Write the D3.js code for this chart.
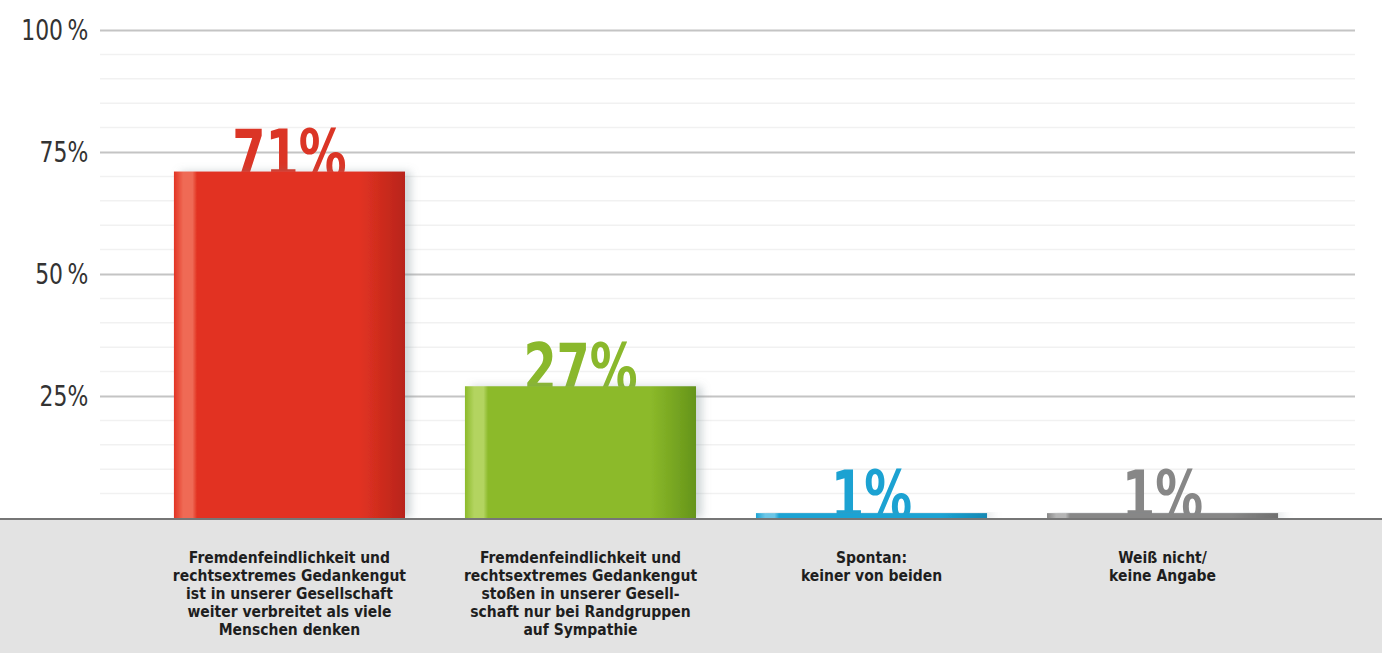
<!DOCTYPE html>
<html>
<head>
<meta charset="utf-8">
<script src="https://cdn.jsdelivr.net/npm/d3@7"></script>
<style>
  body { margin: 0; background: #fff; }
  svg { display: block; }
</style>
</head>
<body>
<div id="chart"></div>
<script>
// chart data
var categories = [
	["Fremdenfeindlichkeit und", "rechtsextremes Gedankengut", "ist in unserer Gesellschaft", "weiter verbreitet als viele", "Menschen denken"],
	["Fremdenfeindlichkeit und", "rechtsextremes Gedankengut", "stoßen in unserer Gesell-", "schaft nur bei Randgruppen", "auf Sympathie"],
	["Spontan:", "keiner von beiden"],
	["Weiß nicht/", "keine Angabe"]
];
var values = [71, 27, 1, 1];
var yTicks = [25, 50, 75, 100];
var tickLabels = ["25%", "50\u2009%", "75%", "100\u2009%"];

var barColours = [
	{light: "#ef6a55", mid: "#e23322", dark: "#b8241a", text: "#db3526"},
	{light: "#b3d461", mid: "#8cba2a", dark: "#65941a", text: "#8ab82c"},
	{light: "#6cc6e6", mid: "#1ba3d3", dark: "#1488b3", text: "#1ca2d2"},
	{light: "#b5b5b5", mid: "#878787", dark: "#6f6f6f", text: "#878787"}
];

var width = 1382, height = 653;
var margin = {top: 30, left: 100, right: 30, bottom: 135};
var fontCond = "'Liberation Sans Narrow', 'DejaVu Sans Condensed', sans-serif";

var svg = d3.select("#chart")
			.append("svg")
			.attr("width", width)
			.attr("height", height);

var x = d3.scaleBand()
		  .domain(d3.range(values.length))
		  .range([margin.left, width - margin.right])
		  .paddingInner(0.206)
		  .paddingOuter(0.254);

var y = d3.scaleLinear()
		  .domain([0, 100])
		  .range([height - margin.bottom, margin.top]);

// gradients for the bars
var defs = svg.append("defs");
barColours.forEach(function (c, i) {
	var g = defs.append("linearGradient")
				.attr("id", "bar" + i)
				.attr("x1", "0%").attr("x2", "100%")
				.attr("y1", "0%").attr("y2", "0%");
	g.append("stop").attr("offset", "0%").attr("stop-color", c.mid);
	g.append("stop").attr("offset", "4%").attr("stop-color", c.light);
	g.append("stop").attr("offset", "8%").attr("stop-color", c.light);
	g.append("stop").attr("offset", "10%").attr("stop-color", c.mid);
	g.append("stop").attr("offset", "80%").attr("stop-color", c.mid);
	g.append("stop").attr("offset", "100%").attr("stop-color", c.dark);
});
var shadow = defs.append("filter")
				 .attr("id", "shadow")
				 .attr("x", "-10%").attr("width", "130%");
shadow.append("feDropShadow")
	  .attr("dx", 6).attr("dy", 0)
	  .attr("stdDeviation", 4)
	  .attr("flood-color", "#7a8a90")
	  .attr("flood-opacity", 0.35);

// faint minor lines every 5%
svg.append("g")
   .selectAll("line")
   .data(d3.range(5, 100, 5).filter(function (d) { return d % 25 !== 0; }))
   .enter()
   .append("line")
   .attr("x1", margin.left)
   .attr("x2", width - 27)
   .attr("y1", function (d) { return y(d); })
   .attr("y2", function (d) { return y(d); })
   .attr("stroke", "#f1f1f1")
   .attr("stroke-width", 1.5);

// major gridlines + labels
var yAxis = d3.axisLeft(y)
			  .tickValues(yTicks)
			  .tickSize(-(width - 27 - margin.left))
			  .tickPadding(14)
			  .tickFormat(function (d, i) { return tickLabels[i]; });

var yg = svg.append("g")
			.attr("transform", "translate(" + margin.left + ",0)")
			.call(yAxis);
yg.select(".domain").remove();
yg.selectAll(".tick line")
  .attr("stroke", "#c4c4c4")
  .attr("stroke-width", 2);
yg.selectAll(".tick text")
  .attr("fill", "#333")
  .attr("font-family", fontCond)
  .attr("font-size", 29)
  .attr("transform", "scale(0.84,1)")
  .attr("dy", "0.34em");

// value labels (drawn first so the bar covers their foot)
svg.append("g")
   .selectAll("g")
   .data(values)
   .enter()
   .append("g")
   .attr("transform", function (d, i) {
		return "translate(" + (x(i) + x.bandwidth() / 2) + "," + (y(d) + 6) + ") scale(0.78,1)";
   })
   .append("text")
   .attr("text-anchor", "middle")
   .attr("font-family", fontCond)
   .attr("font-weight", "bold")
   .attr("font-size", 68)
   .attr("fill", function (d, i) { return barColours[i].text; })
   .text(function (d) { return d + "%"; });

// bars
svg.append("g")
   .selectAll("rect")
   .data(values)
   .enter()
   .append("rect")
   .attr("x", function (d, i) { return x(i); })
   .attr("y", function (d) { return y(d); })
   .attr("width", x.bandwidth())
   .attr("height", function (d) { return y(0) - y(d); })
   .attr("fill", function (d, i) { return "url(#bar" + i + ")"; })
   .attr("filter", "url(#shadow)");

// grey label panel
svg.append("rect")
   .attr("x", 0)
   .attr("y", y(0))
   .attr("width", width)
   .attr("height", height - y(0))
   .attr("fill", "#e3e3e3");
svg.append("line")
   .attr("x1", 0).attr("x2", width)
   .attr("y1", y(0) + 1).attr("y2", y(0) + 1)
   .attr("stroke", "#767676")
   .attr("stroke-width", 2);

// category labels
var cats = svg.append("g")
			  .selectAll("text")
			  .data(categories)
			  .enter()
			  .append("text")
			  .attr("text-anchor", "middle")
			  .attr("font-family", fontCond)
			  .attr("font-weight", "bold")
			  .attr("font-size", 15.5)
			  .attr("fill", "#1e1e1e");
cats.selectAll("tspan")
	.data(function (d, i) { return d.map(function (line) { return {line: line, i: i}; }); })
	.enter()
	.append("tspan")
	.attr("x", function (d) { return x(d.i) + x.bandwidth() / 2; })
	.attr("y", function (d, j) { return y(0) + 45 + j * 18; })
	.text(function (d) { return d.line; });
</script>
</body>
</html>
